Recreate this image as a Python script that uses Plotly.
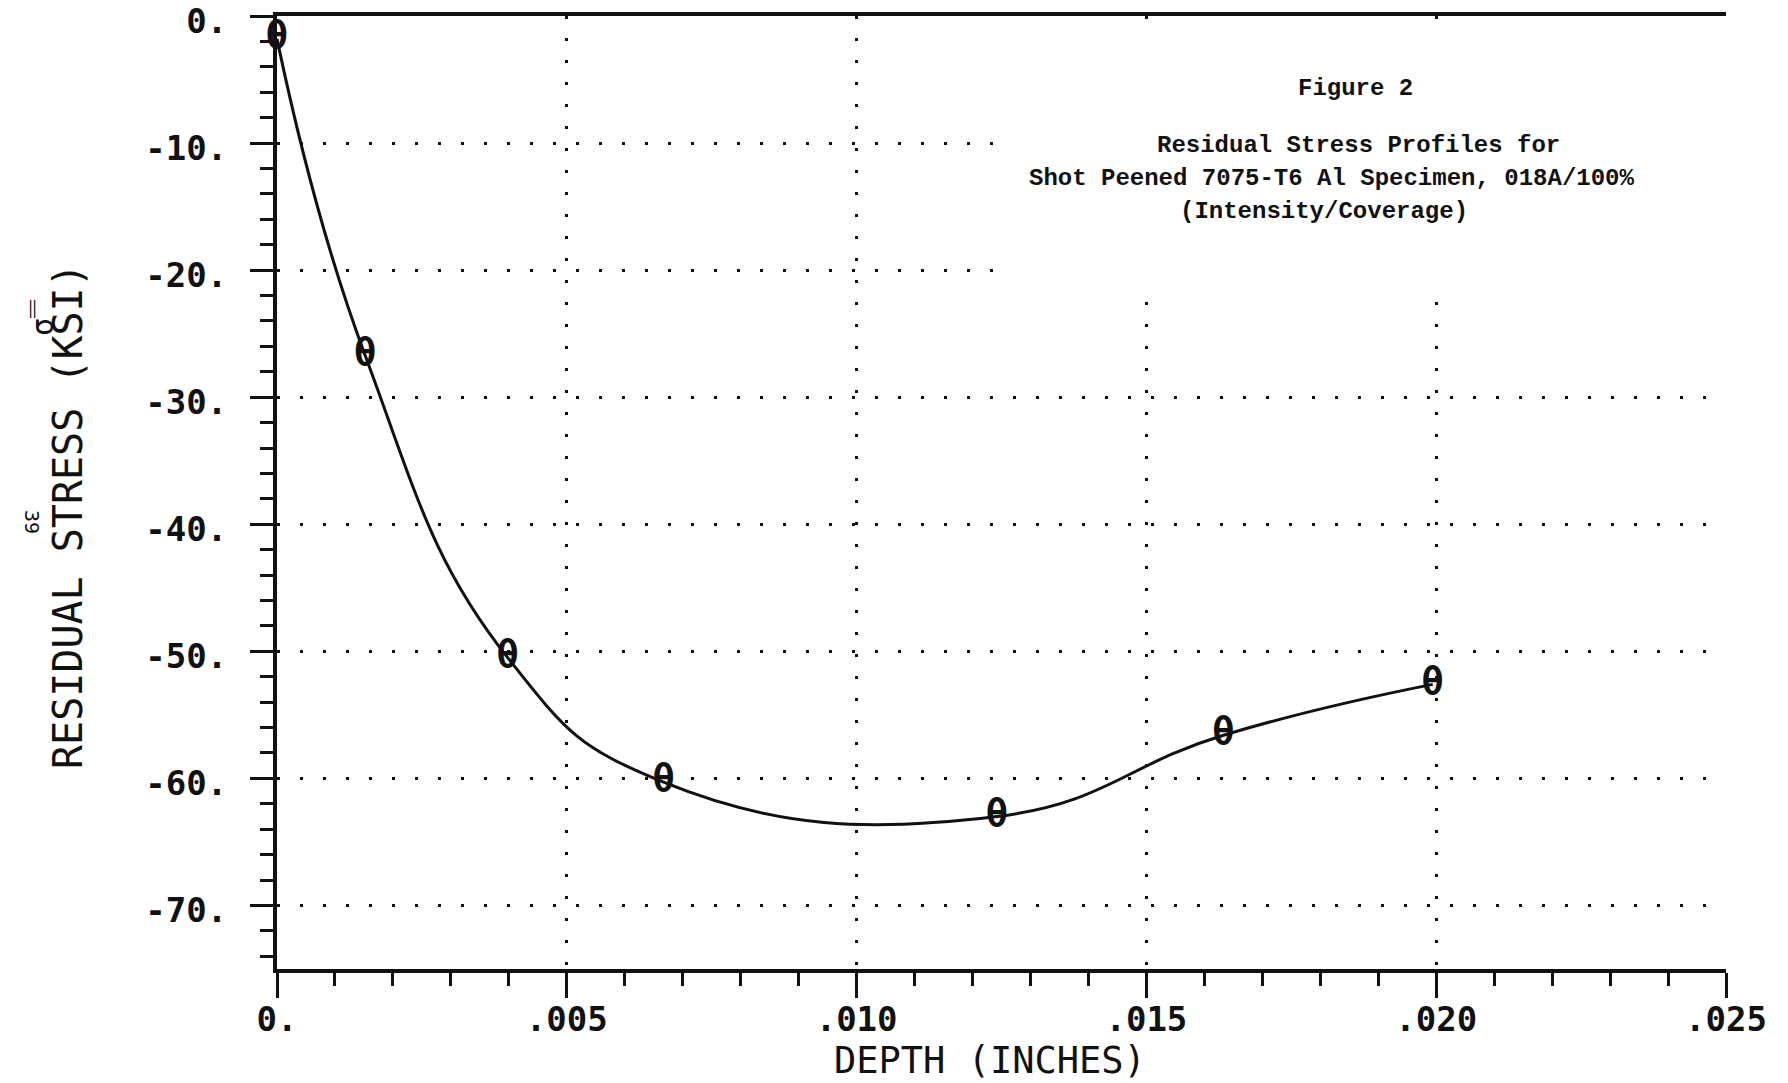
import plotly.graph_objects as go

# ---- data ----
depth_in = [0.0, 0.00152, 0.00398, 0.00667, 0.01242, 0.01633, 0.01994]
stress_ksi = [-1.8, -26.7, -50.5, -60.3, -63.0, -56.6, -52.6]

x_tickvals = [0.0, 0.005, 0.010, 0.015, 0.020, 0.025]
x_ticktext = ["0.", ".005", ".010", ".015", ".020", ".025"]
y_tickvals = [0, -10, -20, -30, -40, -50, -60, -70]
y_ticktext = ["0.", "-10.", "-20.", "-30.", "-40.", "-50.", "-60.", "-70."]

title_lines = [
    "Figure 2",
    "Residual Stress Profiles for",
    "Shot Peened 7075-T6 Al Specimen, 018A/100%",
    "(Intensity/Coverage)",
]

INK = "#111111"
MONO = "DejaVu Sans Mono"
TYPE = "Liberation Mono"

fig = go.Figure()

# smoothed profile curve
fig.add_trace(go.Scatter(
    x=depth_in, y=stress_ksi,
    mode="lines",
    line=dict(color=INK, width=3, shape="spline", smoothing=1.3),
    cliponaxis=False,
    showlegend=False,
))
# plotter symbol at each measured point (a barred oval, like "θ")
fig.add_trace(go.Scatter(
    x=depth_in, y=stress_ksi,
    mode="text",
    text=["θ"] * len(depth_in),
    textposition="middle center",
    textfont=dict(family=MONO, size=37, color=INK, weight="bold"),
    cliponaxis=False,
    showlegend=False,
    hoverinfo="skip",
))

# the page body adds an 8px offset, so the figure is 8px smaller and
# every page position below is shifted back by that amount
OFF = 8
W, H = 1788 - OFF, 1083 - OFF
L, T = 277 - OFF, 16 - OFF
R = W - (1726 - OFF)
B = H - (969 - OFF)
PW, PH = W - L - R, H - T - B

fig.update_layout(
    width=W, height=H,
    margin=dict(l=L, r=R, t=T, b=B),
    paper_bgcolor="white",
    plot_bgcolor="white",
    showlegend=False,
    xaxis=dict(
        range=[0, 0.025], automargin=False,
        tickmode="array", tickvals=x_tickvals, ticktext=x_ticktext,
        ticks="outside", ticklen=25, tickwidth=3, tickcolor=INK,
        tickfont=dict(family=MONO, size=34, color=INK, weight="bold"),
        ticklabelstandoff=-8, ticklabeloverflow="allow",
        showline=True, linecolor=INK, linewidth=4, mirror=True,
        showgrid=True, gridcolor=INK, gridwidth=3, griddash="3px,19px",
        zeroline=False,
        minor=dict(tick0=0, dtick=0.001, ticks="outside", ticklen=13,
                   tickwidth=3, tickcolor=INK, showgrid=False),
    ),
    yaxis=dict(
        range=[-75, 0], automargin=False,
        tickmode="array", tickvals=y_tickvals, ticktext=y_ticktext,
        ticks="outside", ticklen=23, tickwidth=3, tickcolor=INK,
        tickfont=dict(family=MONO, size=34, color=INK, weight="bold"),
        ticklabelstandoff=16, ticklabelshift=5, ticklabeloverflow="allow",
        showline=True, linecolor=INK, linewidth=4, mirror=False,
        showgrid=True, gridcolor=INK, gridwidth=3, griddash="3px,20px",
        zeroline=False,
        minor=dict(tick0=0, dtick=2, ticks="outside", ticklen=13,
                   tickwidth=3, tickcolor=INK, showgrid=False),
    ),
    shapes=[
        # blank area behind the figure caption (grid is interrupted there)
        dict(type="rect", xref="x", yref="y", x0=0.01238, x1=0.0252,
             y0=-21.8, y1=-0.6, fillcolor="white", line=dict(width=0),
             layer="between"),
    ],
)

# page pixel position -> paper coordinates (paper = plot area)
def px_x(px):
    return (px - OFF - L) / PW

def px_y(py):
    return (H - B - (py - OFF)) / PH

ann = []
# axis titles
ann.append(dict(text="DEPTH (INCHES)", x=px_x(990), y=px_y(1060), xref="paper", yref="paper",
                showarrow=False, font=dict(family=MONO, size=37, color=INK),
                xanchor="center", yanchor="middle"))
ann.append(dict(text="RESIDUAL STRESS (KSI)", x=px_x(68), y=px_y(516), xref="paper", yref="paper",
                showarrow=False, textangle=-90, font=dict(family=MONO, size=40, color=INK),
                xanchor="center", yanchor="middle"))
ann.append(dict(text="σ\u033f", x=px_x(42), y=px_y(318), xref="paper", yref="paper",
                showarrow=False, textangle=-90, font=dict(family=MONO, size=30, color=INK),
                xanchor="center", yanchor="middle"))
ann.append(dict(text="39", x=px_x(32), y=px_y(522), xref="paper", yref="paper",
                showarrow=False, textangle=90, font=dict(family=MONO, size=20, color=INK),
                xanchor="center", yanchor="middle"))
# caption
cap_pos = [(1355, 89), (1358, 146), (1331, 179), (1324, 211)]
for line, (cx, cy) in zip(title_lines, cap_pos):
    ann.append(dict(text=line, x=px_x(cx), y=px_y(cy), xref="paper", yref="paper",
                    showarrow=False, font=dict(family=TYPE, size=24, color=INK, weight="bold"),
                    xanchor="center", yanchor="middle"))

fig.update_layout(annotations=ann)

fig.write_html("out.html")
